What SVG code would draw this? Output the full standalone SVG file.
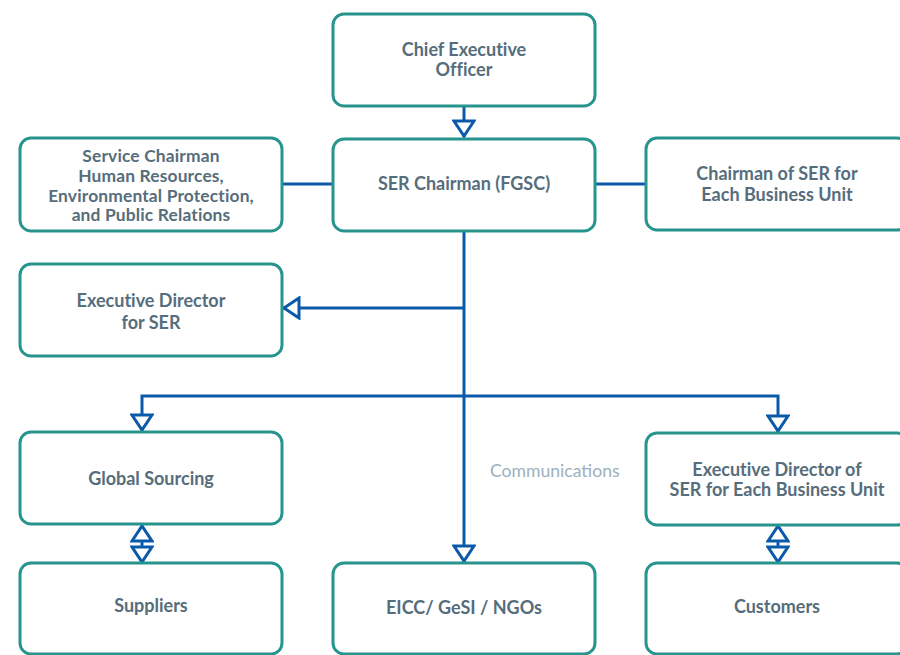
<svg xmlns="http://www.w3.org/2000/svg" width="900" height="655" viewBox="0 0 900 655">
  <style>
    .box { fill: #ffffff; stroke: #27948e; stroke-width: 3; }
    .lbl { font-family: Lato, "Open Sans", "Liberation Sans", sans-serif; font-weight: bold; font-size: 18px; fill: #566d7c; text-anchor: middle; font-variant-ligatures: none; }
    .dense { font-size: 17.4px; letter-spacing: 0.15px; }
    .note { font-family: Lato, "Open Sans", "Liberation Sans", sans-serif; font-size: 17.6px; fill: #9db0bd; }
    .wire { fill: none; stroke: #0b5aa9; stroke-width: 3; }
    .arrow { marker-end: url(#tri); }
    .both { marker-start: url(#tri); marker-end: url(#tri); }
  </style>
  <defs>
    <marker id="tri" markerUnits="userSpaceOnUse" viewBox="0 0 22 24" markerWidth="22" markerHeight="24" refX="18" refY="12" orient="auto-start-reverse">
      <path d="M2,2 L17,12 L2,22 Z" fill="#ffffff" stroke="#0b5aa9" stroke-width="3" stroke-linejoin="miter"/>
    </marker>
  </defs>

  <rect width="900" height="655" fill="#ffffff"/>

  <g id="connectors">
    <path class="wire arrow" d="M464,106 V137"/>
    <path class="wire" d="M283,184 H333"/>
    <path class="wire" d="M596,184 H645"/>
    <path class="wire arrow" d="M464,308 H283"/>
    <path class="wire arrow" d="M464,231 V562"/>
    <path class="wire arrow" d="M464,396 H142 V431"/>
    <path class="wire arrow" d="M464,396 H778 V432"/>
    <path class="wire both" d="M142,525 V563"/>
    <path class="wire both" d="M778,525 V563"/>
    <text class="note" x="490" y="477">Communications</text>
  </g>

  <g id="ceo">
    <rect class="box" x="333" y="14" width="262" height="92" rx="11"/>
    <text class="lbl" x="464" y="56">Chief Executive</text>
    <text class="lbl" x="464" y="76">Officer</text>
  </g>

  <g id="ser-chairman">
    <rect class="box" x="333" y="139" width="262" height="92" rx="11"/>
    <text class="lbl" x="464" y="190">SER Chairman (FGSC)</text>
  </g>

  <g id="service-chairman">
    <rect class="box" x="20" y="138" width="262" height="93" rx="11"/>
    <text class="lbl dense" x="151" y="162">Service Chairman</text>
    <text class="lbl dense" x="151" y="182">Human Resources,</text>
    <text class="lbl dense" x="151" y="201.5">Environmental Protection,</text>
    <text class="lbl dense" x="151" y="221">and Public Relations</text>
  </g>

  <g id="bu-chairman">
    <rect class="box" x="646" y="138" width="262" height="92" rx="11"/>
    <text class="lbl" x="777" y="180">Chairman of SER for</text>
    <text class="lbl" x="777" y="201">Each Business Unit</text>
  </g>

  <g id="exec-director">
    <rect class="box" x="20" y="264" width="262" height="92" rx="11"/>
    <text class="lbl" x="151" y="307">Executive Director</text>
    <text class="lbl" x="151" y="329">for SER</text>
  </g>

  <g id="global-sourcing">
    <rect class="box" x="20" y="432" width="262" height="92" rx="11"/>
    <text class="lbl" x="151" y="485">Global Sourcing</text>
  </g>

  <g id="bu-exec-director">
    <rect class="box" x="646" y="433" width="262" height="92" rx="11"/>
    <text class="lbl" x="777" y="476">Executive Director of</text>
    <text class="lbl" x="777" y="496">SER for Each Business Unit</text>
  </g>

  <g id="suppliers">
    <rect class="box" x="20" y="563" width="262" height="91" rx="11"/>
    <text class="lbl" x="151" y="612">Suppliers</text>
  </g>

  <g id="eicc">
    <rect class="box" x="333" y="563" width="262" height="91" rx="11"/>
    <text class="lbl" x="464" y="614">EICC/ GeSI / NGOs</text>
  </g>

  <g id="customers">
    <rect class="box" x="646" y="563" width="262" height="91" rx="11"/>
    <text class="lbl" x="777" y="613">Customers</text>
  </g>
</svg>
